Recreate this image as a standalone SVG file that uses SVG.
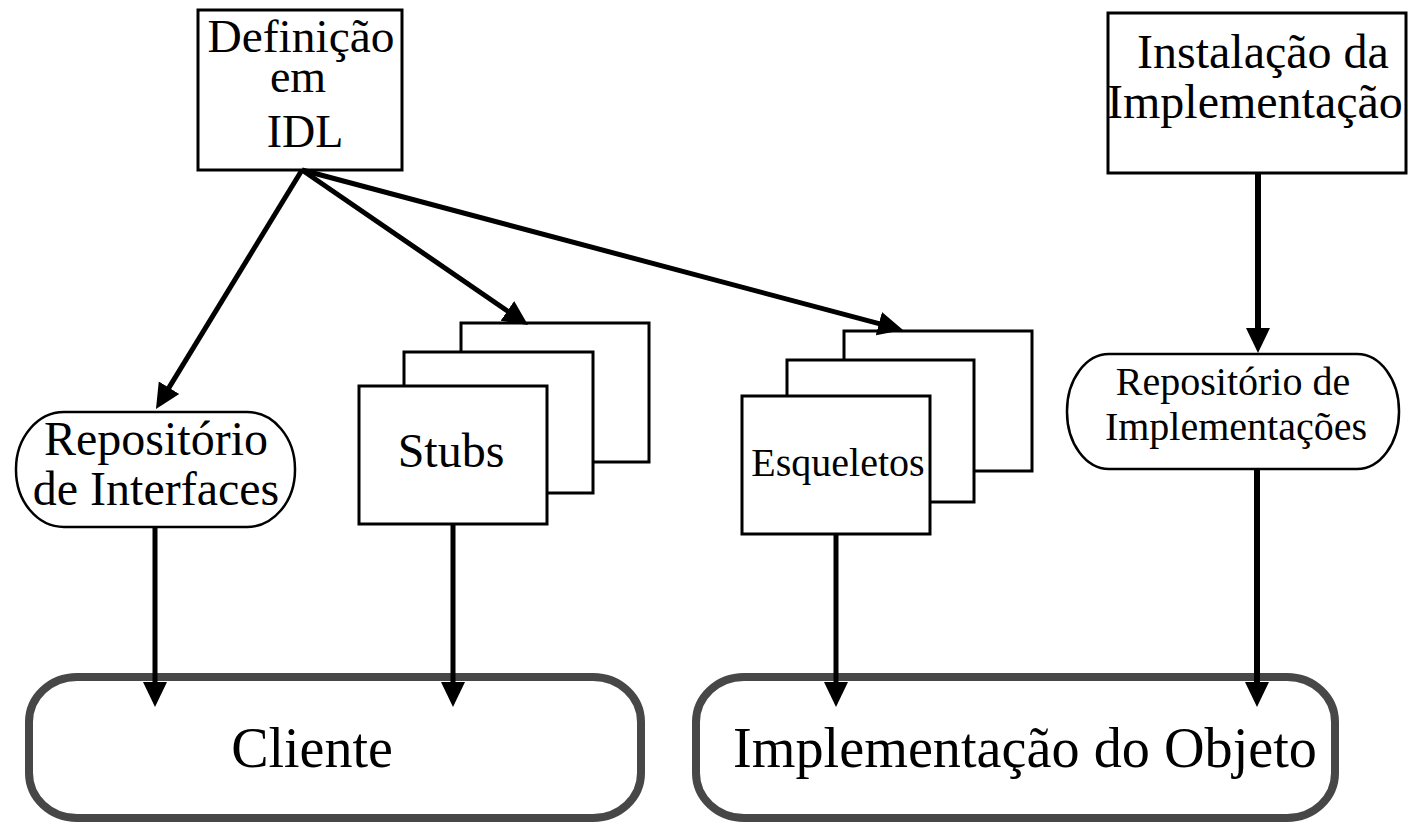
<svg xmlns="http://www.w3.org/2000/svg" width="1417" height="836" viewBox="0 0 1417 836">
<style>
.t{font-family:"Liberation Serif","Times New Roman",serif;fill:#000}
.box{fill:#fff;stroke:#000;stroke-width:3}
.rep{fill:#fff;stroke:#000;stroke-width:2.5}
.big{fill:#fff;stroke:#474747;stroke-width:8}
.c{fill:none;stroke:#000;stroke-width:5;marker-end:url(#ah)}
.c6{fill:none;stroke:#000;stroke-width:6;marker-end:url(#ah)}
</style>
<defs>
<marker id="ah" markerUnits="userSpaceOnUse" markerWidth="26" markerHeight="26" refX="5" refY="12" orient="auto" viewBox="0 0 26 24">
<path d="M0,0 L25,12 L0,24 z" fill="#000"/>
</marker>
</defs>
<rect width="1417" height="836" fill="#fff"/>
<g id="definicao">
<rect class="box" x="198" y="10" width="204" height="160"/>
<text class="t" font-size="46" text-anchor="middle"><tspan x="301" y="52" textLength="187" lengthAdjust="spacingAndGlyphs">Definição</tspan><tspan x="298" y="92">em</tspan><tspan x="305" y="147">IDL</tspan></text>
</g>
<g id="instalacao">
<rect class="box" x="1108" y="13" width="298" height="160"/>
<text class="t" font-size="48"><tspan x="1137" y="68">Instalação da</tspan><tspan x="1107" y="118">Implementação</tspan></text>
</g>
<g id="repo-interfaces">
<rect class="rep" x="16" y="412" width="279" height="115" rx="48" ry="57"/>
<text class="t" font-size="48" text-anchor="middle"><tspan x="156" y="455">Repositório</tspan><tspan x="156" y="505">de Interfaces</tspan></text>
</g>
<g id="stubs">
<rect class="box" x="461" y="323" width="188" height="139"/>
<rect class="box" x="404" y="352" width="189" height="141"/>
<rect class="box" x="359" y="386" width="188" height="138"/>
<text class="t" font-size="48" text-anchor="middle" x="451" y="467">Stubs</text>
</g>
<g id="esqueletos">
<rect class="box" x="844" y="331" width="188" height="140"/>
<rect class="box" x="787" y="360" width="187" height="142"/>
<rect class="box" x="742" y="396" width="188" height="138"/>
<text class="t" font-size="40" text-anchor="middle" x="838" y="476">Esqueletos</text>
</g>
<g id="repo-implementacoes">
<rect class="rep" x="1067" y="354" width="332" height="115" rx="42" ry="57"/>
<text class="t" font-size="40" text-anchor="middle"><tspan x="1233" y="395">Repositório de</tspan><tspan x="1236" y="440">Implementações</tspan></text>
</g>
<g id="cliente">
<rect class="big" x="29" y="677" width="612" height="141" rx="48" ry="45"/>
<text class="t" font-size="56" text-anchor="middle" x="312" y="767">Cliente</text>
</g>
<g id="implementacao-objeto">
<rect class="big" x="696" y="677" width="639" height="141" rx="48" ry="45"/>
<text class="t" font-size="57" x="733" y="767" textLength="584" lengthAdjust="spacingAndGlyphs">Implementação do Objeto</text>
</g>
<g id="connectors">
<line class="c" x1="302" y1="170" x2="166.4" y2="391.9"/>
<line class="c" x1="302" y1="170" x2="511.5" y2="313.7"/>
<line class="c" x1="302" y1="170" x2="883.7" y2="324.9"/>
<line class="c6" x1="1258" y1="173" x2="1258" y2="333"/>
<line class="c" x1="155" y1="527" x2="155" y2="687"/>
<line class="c" x1="453" y1="524" x2="453" y2="687"/>
<line class="c" x1="836" y1="534" x2="836" y2="687"/>
<line class="c6" x1="1257" y1="469" x2="1257" y2="687"/>
</g>
</svg>
